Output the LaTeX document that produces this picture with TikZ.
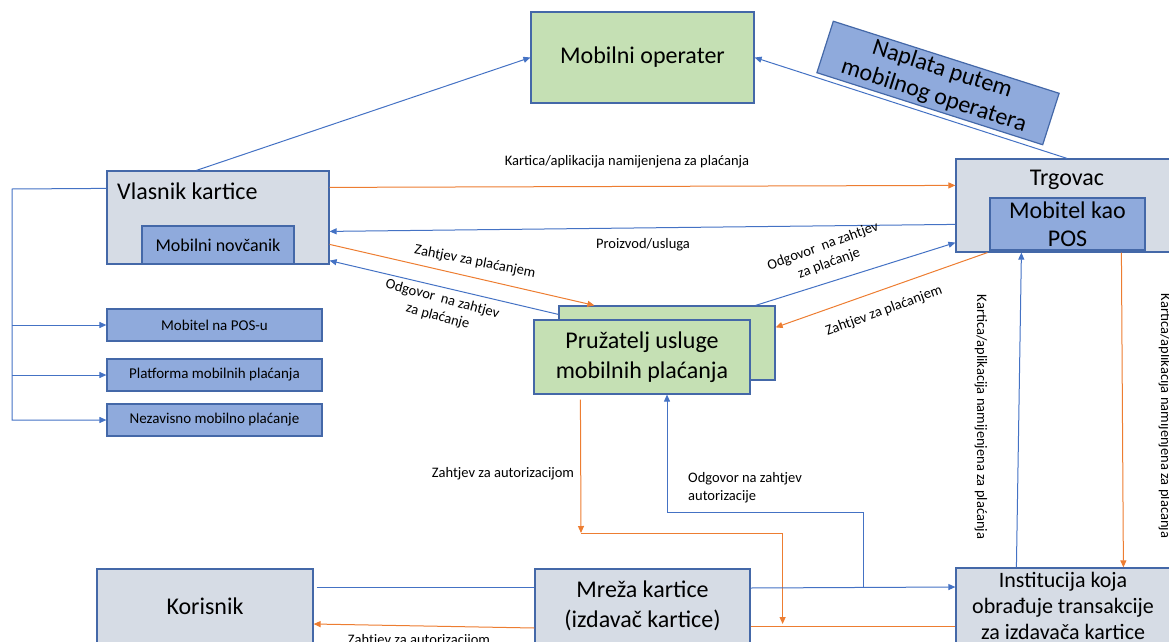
\documentclass[tikz,border=0pt]{standalone}
\usepackage{fontspec}
\setmainfont{Carlito}
\usetikzlibrary{arrows.meta,calc}
\definecolor{boxgrey}{HTML}{D6DCE5}
\definecolor{boxblue}{HTML}{8FAADC}
\definecolor{boxgreen}{HTML}{C5E0B4}
\definecolor{edge}{HTML}{4468A8}
\definecolor{lineblue}{HTML}{4472C4}
\definecolor{lineorange}{HTML}{ED7D31}
\begin{document}
\begin{tikzpicture}[x=1pt,y=-1pt,
    box/.style={draw=edge,line width=1.2pt,inner sep=0pt,align=center},
    greybox/.style={box,fill=boxgrey},
    bluebox/.style={box,fill=boxblue},
    greenbox/.style={box,fill=boxgreen},
    big/.style={font=\fontsize{24}{30}\selectfont,inner sep=0pt,align=center},
    mid/.style={font=\fontsize{18}{22}\selectfont},
    small/.style={font=\fontsize{15}{18}\selectfont},
    lbl/.style={font=\fontsize{14.5}{18}\selectfont,align=center,inner sep=0pt},
    blueline/.style={draw=lineblue,line width=1pt},
    orangeline/.style={draw=lineorange,line width=1pt},
    tip/.style={-{Triangle[length=7pt,width=6pt]}}]
    \useasboundingbox (0,0) rectangle (1169,642);

    \node[greenbox,big,minimum width=223,minimum height=91] (oper) at (642.5,57.5) {Mobilni operater};
    \node[bluebox,big,font=\fontsize{24}{28}\selectfont,minimum width=237,minimum height=54,rotate=-17.7] (naplata) at (938,83) {Naplata putem\\mobilnog operatera};

    \node[greybox,minimum width=222,minimum height=93] (trg) at (1067,205.5) {};
    \node[big] (trgtxt) at (1067,180) {Trgovac};
    \node[bluebox,big,font=\fontsize{24}{28}\selectfont,minimum width=155,minimum height=52] (pos) at (1067.5,224) {Mobitel kao\\POS};

    \node[greybox,minimum width=222,minimum height=93] (vlasnik) at (218,217.5) {};
    \node[big,anchor=west] (vlasniktxt) at (117,191) {Vlasnik kartice};
    \node[bluebox,mid,minimum width=152,minimum height=38] (novc) at (218,245) {Mobilni novčanik};

    \node[bluebox,small,minimum width=215,minimum height=32] (posu) at (214.5,325) {Mobitel na POS-u};
    \node[bluebox,small,minimum width=215,minimum height=32] (platf) at (214.5,375) {Platforma mobilnih plaćanja};
    \node[bluebox,small,minimum width=215,minimum height=32] (nezav) at (214.5,420) {Nezavisno mobilno plaćanje};

    \node[greenbox,minimum width=216,minimum height=74] (prov2) at (667,343) {};
    \node[greenbox,big,minimum width=216,minimum height=74] (prov) at (642,357) {Pružatelj usluge\\mobilnih plaćanja};

    \node[greybox,big,minimum width=216,minimum height=74] (korisnik) at (205,606) {Korisnik};
    \node[greybox,big,minimum width=215,minimum height=74] (mreza) at (642.5,606) {Mreža kartice\\(izdavač kartice)};
    \node[greybox,big,font=\fontsize{22}{26}\selectfont,minimum width=214,minimum height=76] (inst) at (1063,606) {Institucija koja\\obrađuje transakcije\\za izdavača kartice};

    \draw[blueline,tip] ($(vlasnik.north west)+(90,0)$) -- (oper.west);
    \draw[blueline,tip] (trg.north) -- (oper.east);
    \draw[orangeline,tip] ($(vlasnik.north east)+(0,17)$) -- ($(trg.north west)+(0,27)$);
    \draw[blueline,tip] ($(trg.north west)+(0,66)$) -- ($(vlasnik.north east)+(0,61)$);
    \draw[orangeline,tip] ($(vlasnik.north east)+(0,74)$) -- ($(prov2.north west)+(36,0)$);
    \draw[blueline,tip] ($(prov2.north west)+(0,9)$) -- ($(vlasnik.south east)+(0,-4)$);
    \draw[blueline,tip] ($(prov2.north east)+(-20,0)$) -- ($(trg.south west)+(0,-10)$);
    \draw[orangeline,tip] ($(trg.south west)+(32,0)$) -- ($(prov2.north east)+(0,22)$);

    \coordinate (lft) at (12,189);
    \draw[blueline,tip] ($(vlasnik.north west)+(0,18)$) -- (lft) |- (nezav.west);
    \draw[blueline,tip] (lft |- posu.west) -- (posu.west);
    \draw[blueline,tip] (lft |- platf.west) -- (platf.west);

    \coordinate (azj) at (581,533);
    \draw[orangeline,tip] ($(prov.south west)+(47,5)$) -- (azj);
    \draw[orangeline,tip] (azj) -| ($(mreza.east)+(32,18)$);
    \draw[orangeline] ($(mreza.east)+(0,20)$) -- ($(inst.west)+(0,20)$);
    \draw[blueline,tip] ($(mreza.east)+(0,-18)$) -- ($(inst.west)+(0,-19)$);
    \coordinate (odg) at ($(mreza.east)+(113,-18)$);
    \draw[blueline,tip] (odg) |- ($(prov.south)+(25,118)$) -- ($(prov.south)+(25,0)$);

    \draw[blueline,tip] ($(inst.north west)+(61,0)$) -- ($(trg.south west)+(66,0)$);
    \draw[orangeline,tip] ($(trg.south west)+(166,0)$) -- ($(inst.north west)+(168,0)$);

    \draw[blueline] ($(korisnik.east)+(3,-19)$) -- ($(mreza.west)+(0,-19)$);
    \draw[orangeline,tip] ($(mreza.west)+(0,22)$) -- ($(korisnik.east)+(0,18)$);

    \node[lbl] (lkart) at (627,162) {Kartica/aplikacija namijenjena za plaćanja};
    \node[lbl] (lproiz) at (643,245) {Proizvod/usluga};
    \node[lbl,rotate=-11] (lzpl1) at (475,262) {Zahtjev za plaćanjem};
    \node[lbl,rotate=-15] (lodg1) at (440,308) {Odgovor~ na zahtjev\\za plaćanje};
    \node[lbl,rotate=20] (lodg2) at (826,255) {Odgovor~ na zahtjev\\za plaćanje};
    \node[lbl,rotate=20] (lzpl2) at (884,311) {Zahtjev za plaćanjem};
    \node[lbl] (laut1) at (503,474) {Zahtjev za autorizacijom};
    \node[lbl,anchor=west,align=left] (lodgaut) at (688,488) {Odgovor na zahtjev\\autorizacije};
    \node[lbl] (laut2) at (419,641) {Zahtjev za autorizacijom};
    \node[lbl,rotate=-90] (lkart2) at (981,417) {Kartica/aplikacija namijenjena za plaćanja};
    \node[lbl,rotate=-90] (lkart3) at (1165,416) {Kartica/aplikacija namijenjena za plaćanja};
\end{tikzpicture}
\end{document}
